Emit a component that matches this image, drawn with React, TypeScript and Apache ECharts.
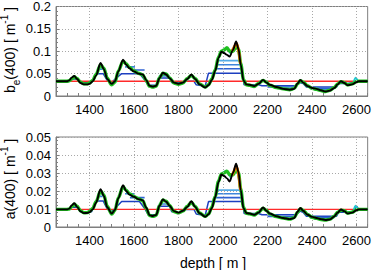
import React, { useEffect, useRef } from "react";
import * as echarts from "echarts";

const depths = [1250,1300,1310,1320,1332,1345,1360,1375,1390,1400,1415,1430,1450,1465,1480,1500,1515,1530,1551,1565,1580,1600,1620,1640,1655,1670,1685,1700,1715,1730,1745,1760,1780,1800,1820,1840,1858,1875,1895,1920,1935,1950,1965,1980,1993,2005,2018,2030,2045,2059,2070,2080,2092,2105,2120,2140,2160,2180,2195,2210,2240,2270,2300,2320,2335,2348,2360,2380,2400,2420,2440,2460,2480,2500,2515,2530,2545,2560,2580,2600,2610,2650];

const beBlack = [0.033,0.033,0.035,0.041,0.045,0.038,0.029,0.026,0.026,0.027,
0.033,0.046,0.074,0.060,0.038,0.027,0.033,0.055,0.081,0.070,
0.062,0.055,0.050,0.048,0.036,0.023,0.021,0.023,0.040,0.052,
0.048,0.040,0.030,0.027,0.030,0.038,0.048,0.038,0.026,0.019,
0.024,0.036,0.056,0.085,0.099,0.096,0.092,0.088,0.103,0.122,
0.105,0.070,0.035,0.026,0.025,0.022,0.027,0.036,0.030,0.025,
0.020,0.016,0.014,0.016,0.028,0.036,0.030,0.022,0.018,0.016,
0.013,0.010,0.012,0.018,0.026,0.033,0.029,0.024,0.026,0.031,
0.033,0.033];

const beGreen = [0.033,0.033,0.034,0.038,0.043,0.039,0.031,0.027,0.027,0.029,
0.035,0.048,0.070,0.062,0.040,0.025,0.031,0.056,0.078,0.072,
0.064,0.056,0.051,0.047,0.035,0.022,0.020,0.022,0.041,0.051,
0.049,0.041,0.029,0.026,0.029,0.039,0.046,0.039,0.027,0.020,
0.025,0.038,0.058,0.087,0.100,0.103,0.108,0.100,0.100,0.110,
0.104,0.072,0.037,0.025,0.024,0.021,0.028,0.035,0.031,0.024,
0.019,0.016,0.014,0.017,0.027,0.034,0.031,0.023,0.017,0.015,
0.012,0.010,0.013,0.019,0.027,0.032,0.030,0.025,0.027,0.032,
0.033,0.033];

const aBlack = [0.0098,0.0098,0.0102,0.0120,0.0132,0.0112,0.0087,0.0077,0.0078,0.0082,
0.0098,0.0135,0.0210,0.0172,0.0110,0.0075,0.0095,0.0160,0.0232,0.0200,
0.0180,0.0168,0.0155,0.0148,0.0108,0.0066,0.0061,0.0067,0.0118,0.0153,
0.0140,0.0118,0.0088,0.0080,0.0090,0.0112,0.0143,0.0112,0.0076,0.0057,
0.0070,0.0105,0.0165,0.0250,0.0292,0.0283,0.0270,0.0253,0.0300,0.0352,
0.0305,0.0205,0.0105,0.0078,0.0075,0.0068,0.0080,0.0108,0.0090,0.0075,
0.0060,0.0050,0.0044,0.0050,0.0085,0.0106,0.0090,0.0068,0.0056,0.0050,
0.0044,0.0039,0.0042,0.0058,0.0080,0.0097,0.0088,0.0075,0.0080,0.0093,
0.0098,0.0098];

const aGreen = [0.0098,0.0098,0.0100,0.0112,0.0126,0.0115,0.0090,0.0079,0.0080,0.0086,
0.0103,0.0140,0.0200,0.0178,0.0115,0.0072,0.0092,0.0163,0.0224,0.0205,
0.0185,0.0170,0.0157,0.0146,0.0105,0.0064,0.0059,0.0065,0.0120,0.0150,
0.0143,0.0120,0.0086,0.0078,0.0088,0.0115,0.0138,0.0114,0.0078,0.0059,
0.0072,0.0110,0.0170,0.0255,0.0295,0.0300,0.0310,0.0290,0.0290,0.0320,
0.0300,0.0210,0.0110,0.0076,0.0073,0.0066,0.0082,0.0105,0.0092,0.0073,
0.0058,0.0050,0.0044,0.0052,0.0082,0.0102,0.0092,0.0070,0.0054,0.0048,
0.0042,0.0039,0.0044,0.0060,0.0082,0.0094,0.0090,0.0077,0.0082,0.0095,
0.0098,0.0098];

const beTV: number[][] = [[1250,0.033],[1300,0.033],[1320,0.038],[1345,0.038],[1360,0.030],[1410,0.030],[1430,0.050],[1462,0.050],[1480,0.035],[1500,0.030],[1520,0.040],[1545,0.050],[1625,0.050],[1650,0.035],[1665,0.024],[1700,0.024],[1710,0.040],[1760,0.040],[1770,0.030],[1815,0.030],[1825,0.033],[1870,0.033],[1880,0.025],[1920,0.022],[1935,0.051],[2088,0.051],[2095,0.025],[2160,0.025],[2175,0.023],[2330,0.023],[2345,0.030],[2360,0.028],[2375,0.020],[2510,0.020],[2520,0.028],[2560,0.028],[2590,0.030],[2600,0.036],[2610,0.033],[2650,0.033]];

const aTV: number[][] = [[1250,0.0098],[1300,0.0098],[1320,0.0110],[1345,0.0110],[1360,0.0085],[1410,0.0085],[1430,0.0145],[1462,0.0145],[1480,0.0100],[1500,0.0085],[1520,0.0110],[1545,0.0142],[1625,0.0142],[1650,0.0100],[1665,0.0068],[1700,0.0068],[1710,0.0115],[1760,0.0115],[1770,0.0085],[1815,0.0085],[1825,0.0097],[1870,0.0097],[1880,0.0072],[1920,0.0064],[1935,0.0141],[2088,0.0141],[2095,0.0075],[2160,0.0075],[2175,0.0068],[2330,0.0068],[2345,0.0088],[2360,0.0082],[2375,0.0060],[2510,0.0060],[2520,0.0082],[2560,0.0082],[2590,0.0088],[2600,0.0115],[2610,0.0098],[2650,0.0098]];

// plateau segments [from, to, level]
const bePlateauA = [[1962,2088,0.061],[1582,1648,0.058],[2200,2320,0.020],[2390,2500,0.017]];
const bePlateauB = [[1966,2086,0.070],[1560,1605,0.065],[1440,1460,0.060],[1712,1752,0.045],[2410,2490,0.014]];
const bePlateauC = [[1972,2083,0.079],[2430,2475,0.012],[2260,2310,0.017]];
const aPlateauA = [[1962,2088,0.0163],[1582,1648,0.0163],[2200,2320,0.0058],[2390,2500,0.0052]];
const aPlateauB = [[1966,2086,0.0185],[1560,1605,0.0185],[1440,1460,0.0170],[1712,1752,0.0128],[2410,2490,0.0046]];
const aPlateauC = [[1972,2083,0.0205],[2430,2475,0.0042],[2260,2310,0.0050]];

const beCyan = [[[1995,0.098],[2005,0.104],[2015,0.107],[2025,0.103],[2035,0.094]],[[2585,0.028],[2596,0.041],[2605,0.034]],[[1440,0.062],[1452,0.068],[1462,0.062]]];
const aCyan = [[[1995,0.0290],[2005,0.0305],[2015,0.0312],[2025,0.0300],[2035,0.0275]],[[2585,0.0082],[2596,0.0118],[2605,0.0100]],[[1440,0.0180],[1452,0.0195],[1462,0.0180]]];

const beYellow = [[2040,0.100],[2050,0.108],[2059,0.115],[2068,0.108],[2078,0.075]];
const beOrange = [[2042,0.102],[2052,0.112],[2059,0.119],[2068,0.107],[2078,0.072]];
const aYellow = [[2040,0.0285],[2050,0.0310],[2059,0.0330],[2068,0.0310],[2078,0.0215]];
const aOrange = [[2042,0.0290],[2052,0.0320],[2059,0.0340],[2068,0.0305],[2078,0.0205]];

const beMean = 0.033;
const aMean = 0.0098;
const meanRange = [1300, 2600];

const gridTicks = [1400, 1600, 1800, 2000, 2200, 2400, 2600];

const FONT = "Liberation Sans";

function panelSeries(idx: number, black: number[], green: number[], tv: number[][], pA: number[][], pB: number[][], pC: number[][], cyan: number[][][], yellow: number[][], orange: number[][], mean: number) {
  const base = { type: "line", xAxisIndex: idx, yAxisIndex: idx, showSymbol: false, symbol: "none", silent: true };
  const s: any[] = [];
  s.push({
    ...base, z: 1,
    data: [],
    markLine: {
      silent: true, symbol: "none", label: { show: false },
      lineStyle: { type: [1, 2], color: "#a8a8a8", width: 1 },
      data: gridTicks.map((v) => ({ xAxis: v })),
    },
  });
  s.push({ ...base, z: 2, data: tv, lineStyle: { color: "#1d3fc0", width: 1.5 } });
  const shades = [["#2f62d2", pA], ["#3f86dc", pB], ["#55abe6", pC]] as any[];
  shades.forEach(([c, segs]) => {
    (segs as number[][]).forEach((g) => {
      s.push({ ...base, z: 2, data: [[g[0], g[2]], [g[1], g[2]]], lineStyle: { color: c, width: 1.6 } });
    });
  });
  s.push({ ...base, z: 3, data: meanRange.map((d) => [d, mean]), lineStyle: { color: "#ff2a2a", width: 1.3 } });
  cyan.forEach((seg) => s.push({ ...base, z: 3, smooth: 0.3, data: seg, lineStyle: { color: "#20c8d0", width: 2 } }));
  s.push({ ...base, z: 4, smooth: 0.3, smoothMonotone: "x", data: depths.map((d, i) => [d, green[i]]), lineStyle: { color: "#1fbf1f", width: 3.4 } });
  s.push({ ...base, z: 5, smooth: 0.3, data: yellow, lineStyle: { color: "#d8d800", width: 2.5 } });
  s.push({ ...base, z: 5, smooth: 0.3, data: orange, lineStyle: { color: "#e06000", width: 2.5 } });
  s.push({ ...base, z: 6, smooth: 0.3, smoothMonotone: "x", data: depths.map((d, i) => [d, black[i]]), lineStyle: { color: "#000000", width: 1.9 } });
  return s;
}

export default function App() {
  const ref = useRef<HTMLDivElement>(null);
  useEffect(() => {
    if (!ref.current) return;
    const chart = echarts.init(ref.current, undefined, { renderer: "svg" });
    const xAxisCommon = {
      type: "value", min: 1250, max: 2650, interval: 50,
      axisLine: { show: true, lineStyle: { color: "#7f7f7f" } },
      axisTick: { show: true, inside: true, length: 3, lineStyle: { color: "#7f7f7f" } },
      axisLabel: { formatter: (v: number) => (v % 200 === 0 ? String(v) : ""), fontSize: 13, color: "#000", margin: 7, fontFamily: FONT },
      splitLine: { show: false },
    };
    const yAxisCommon = {
      type: "value",
      axisLine: { show: true, lineStyle: { color: "#7f7f7f" } },
      axisTick: { show: true, inside: true, length: 3, lineStyle: { color: "#7f7f7f" } },
      minorTick: { show: true, splitNumber: 5, length: 2, lineStyle: { color: "#7f7f7f" } },
      axisLabel: { fontSize: 13, color: "#000", margin: 5, fontFamily: FONT },
      splitLine: { show: true, lineStyle: { type: [1, 2], color: "#a8a8a8", width: 1 } },
    };
    const option: any = {
      animation: false,
      grid: [
        { left: 56, right: 5, top: 5, height: 91, show: true, borderColor: "#7f7f7f", borderWidth: 1, backgroundColor: "transparent" },
        { left: 56, right: 5, top: 137, height: 90, show: true, borderColor: "#7f7f7f", borderWidth: 1, backgroundColor: "transparent" },
      ],
      xAxis: [{ ...xAxisCommon, gridIndex: 0 }, { ...xAxisCommon, gridIndex: 1 }],
      yAxis: [
        { ...yAxisCommon, gridIndex: 0, min: 0, max: 0.2, interval: 0.05 },
        { ...yAxisCommon, gridIndex: 1, min: 0, max: 0.05, interval: 0.01 },
      ],
      series: [
        ...panelSeries(0, beBlack, beGreen, beTV, bePlateauA, bePlateauB, bePlateauC, beCyan, beYellow, beOrange, beMean),
        ...panelSeries(1, aBlack, aGreen, aTV, aPlateauA, aPlateauB, aPlateauC, aCyan, aYellow, aOrange, aMean),
      ],
      graphic: [
        {
          type: "text", x: 10, y: 50, rotation: Math.PI / 2,
          style: {
            text: "{b|b}{s|e}{b|(400) [ m}{p|-1}{b| ]}",
            align: "center", verticalAlign: "middle",
            fontFamily: FONT, fill: "#000",
            rich: {
              b: { fontSize: 14, fontFamily: FONT, lineHeight: 22, verticalAlign: "middle" },
              s: { fontSize: 10, fontFamily: FONT, lineHeight: 10, verticalAlign: "bottom" },
              p: { fontSize: 10, fontFamily: FONT, lineHeight: 10, verticalAlign: "top" },
            },
          },
        },
        {
          type: "text", x: 10, y: 179, rotation: Math.PI / 2,
          style: {
            text: "{b|a(400) [ m}{p|-1}{b| ]}",
            align: "center", verticalAlign: "middle",
            fontFamily: FONT, fill: "#000",
            rich: {
              b: { fontSize: 14, fontFamily: FONT, lineHeight: 22, verticalAlign: "middle" },
              p: { fontSize: 10, fontFamily: FONT, lineHeight: 10, verticalAlign: "top" },
            },
          },
        },
        {
          type: "text", x: 213, y: 263,
          style: { text: "depth [ m ]", fontSize: 14, fontFamily: FONT, fill: "#000", align: "center", verticalAlign: "middle" },
        },
      ],
    };
    chart.setOption(option);
    return () => chart.dispose();
  }, []);
  return <div ref={ref} style={{ position: "fixed", left: 0, top: 0, width: 374, height: 270, background: "#fff" }} />;
}
